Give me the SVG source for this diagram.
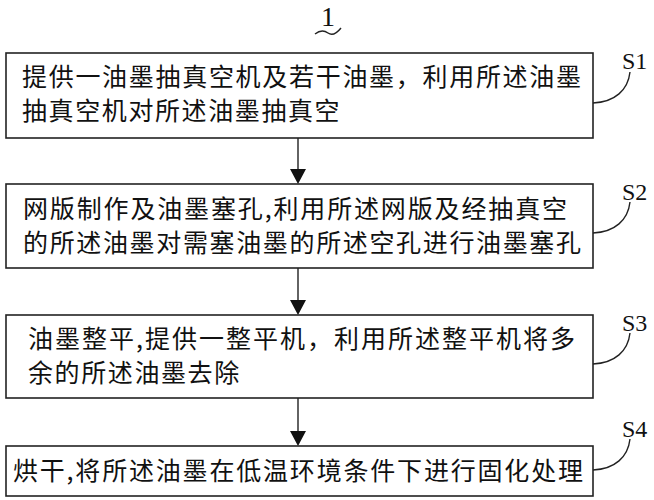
<svg xmlns="http://www.w3.org/2000/svg" width="654" height="500" viewBox="0 0 654 500">
<style>
.box{fill:#fff;stroke:#222;stroke-width:1.6}
.t{font-family:"Noto Sans CJK SC","Noto Sans CJK JP",sans-serif;font-size:25px;fill:#111}
.lbl{font-family:"Liberation Serif",serif;font-size:24px;fill:#111}
.num{font-family:"Liberation Serif",serif;font-size:28px;fill:#111}
.lead{fill:none;stroke:#222;stroke-width:1.4}
.ln{stroke:#222;stroke-width:1.4}
.ah{fill:#111}
</style>
<rect width="654" height="500" fill="#fff"/>
<g id="title">
<text class="num" x="328" y="26" text-anchor="middle">1</text>
<path class="lead" d="M315,34 C320,30 324,30 328,33 C332,36 337,33 341,28"/>
</g>
<g id="connectors">
<line class="ln" x1="298" y1="138" x2="298" y2="170"/>
<polygon class="ah" points="290,169 306,169 298,184"/>
<line class="ln" x1="298" y1="268" x2="298" y2="301"/>
<polygon class="ah" points="290,300 306,300 298,315"/>
<line class="ln" x1="298" y1="398" x2="298" y2="432"/>
<polygon class="ah" points="290,431 306,431 298,446"/>
</g>
<g id="S1">
<rect class="box" x="6" y="53" width="587" height="85"/>
<text class="t" x="22" y="86" textLength="559" lengthAdjust="spacing">提供一油墨抽真空机及若干油墨，利用所述油墨</text>
<text class="t" x="22" y="120" letter-spacing="1.6">抽真空机对所述油墨抽真空</text>
<path class="lead" d="M593,103 C615,102 628,90 630,72"/>
<text class="lbl" x="622" y="69">S1</text>
</g>
<g id="S2">
<rect class="box" x="6" y="184" width="587" height="84"/>
<text class="t" x="23" y="218" textLength="544" lengthAdjust="spacing">网版制作及油墨塞孔,利用所述网版及经抽真空</text>
<text class="t" x="23" y="252" textLength="558" lengthAdjust="spacing">的所述油墨对需塞油墨的所述空孔进行油墨塞孔</text>
<path class="lead" d="M593,233 C615,232 628,220 630,202"/>
<text class="lbl" x="622" y="200">S2</text>
</g>
<g id="S3">
<rect class="box" x="6" y="315" width="587" height="83"/>
<text class="t" x="28" y="348" textLength="547" lengthAdjust="spacing">油墨整平,提供一整平机，利用所述整平机将多</text>
<text class="t" x="28" y="382" letter-spacing="1.6">余的所述油墨去除</text>
<path class="lead" d="M593,364 C615,363 628,351 630,333"/>
<text class="lbl" x="622" y="331">S3</text>
</g>
<g id="S4">
<rect class="box" x="6" y="446" width="587" height="50"/>
<text class="t" x="13" y="480" textLength="570" lengthAdjust="spacing">烘干,将所述油墨在低温环境条件下进行固化处理</text>
<path class="lead" d="M593,470 C615,469 628,457 630,439"/>
<text class="lbl" x="622" y="437">S4</text>
</g>
</svg>
